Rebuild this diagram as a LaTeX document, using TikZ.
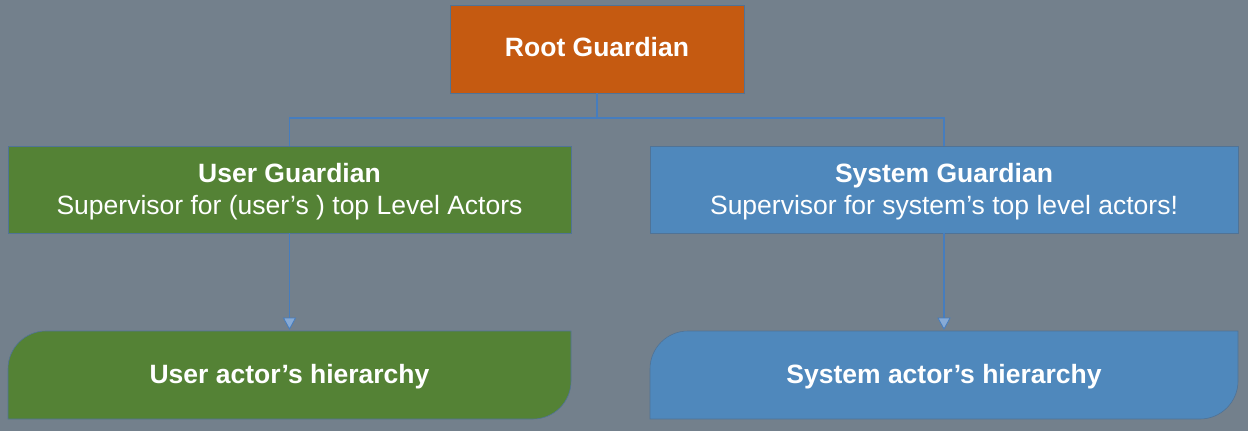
\documentclass[tikz,border=0pt]{standalone}
\usepackage{fontspec}
\setmainfont{Liberation Sans}
\definecolor{bgc}{RGB}{115,128,140}
\definecolor{orng}{RGB}{197,90,17}
\definecolor{grn}{RGB}{84,130,53}
\definecolor{blu}{RGB}{79,136,188}
\definecolor{lnc}{RGB}{70,125,190}
\definecolor{edg}{RGB}{80,115,150}
\pgfdeclarelayer{bg}
\pgfsetlayers{bg,main}
\begin{document}
\begin{tikzpicture}[x=1pt,y=-1pt,
  box/.style={draw=edg,line width=0.6pt,minimum height=87pt,inner sep=0pt},
  txt/.style={inner sep=0pt,text=white,align=center,font=\fontsize{26.5}{32.5}\selectfont},
  conn/.style={draw=lnc,line width=1.2pt},
  tip/.style={fill=lnc!65!white,draw=lnc,line width=0.8pt,line join=miter}]
\begin{pgfonlayer}{bg}
\fill[bgc] (0,0) rectangle (1248,431);
\end{pgfonlayer}
\useasboundingbox (0,0) rectangle (1248,431);
\node[box,fill=orng,minimum width=294pt,minimum height=88pt] (root) at (597,49) {};
\node[txt,font=\fontsize{26.5}{32.5}\selectfont\bfseries] (roott) at (597,47.5) {Root Guardian};
\node[box,fill=grn,minimum width=563pt] (ug) at (289.5,189.5) {};
\node[txt] (ugt) at (289.5,191.5) {\textbf{User Guardian}\\Supervisor for (user’s ) top Level Actors};
\node[box,fill=blu,minimum width=588pt] (sg) at (944,189.5) {};
\node[txt] (sgt) at (944,191.5) {\textbf{System Guardian}\\Supervisor for system’s top level actors!};
\coordinate (lnw) at (8,331); \coordinate (lse) at (571,419);
\coordinate (rnw) at (650,331); \coordinate (rse) at (1238,419);
\node[txt,font=\fontsize{26.5}{32.5}\selectfont\bfseries] (uh) at (289.5,377) {User actor’s hierarchy};
\node[txt,font=\fontsize{26.5}{32.5}\selectfont\bfseries] (sh) at (944,377) {System actor’s hierarchy};
\begin{pgfonlayer}{bg}
\foreach \nw/\se/\c in {lnw/lse/grn,rnw/rse/blu}{
  \path[fill=\c,draw=edg,line width=0.6pt]
    (\nw |- \se) -- ([yshift=-38pt]\nw) arc[start angle=180,end angle=90,radius=38pt]
    -- (\se |- \nw) -- ([yshift=38pt]\se) arc[start angle=0,end angle=-90,radius=38pt] -- cycle;
}
\end{pgfonlayer}
\coordinate (mid) at (597,118);
\coordinate (ua) at ([yshift=2pt]ug.south |- lnw);
\coordinate (sa) at ([yshift=2pt]sg.south |- rnw);
\draw[conn] (root.south) -- (mid);
\draw[conn] (ug.north) |- (mid) -| (sg.north);
\draw[conn] (ug.south) -- ([yshift=10pt]ua);
\draw[conn] (sg.south) -- ([yshift=10pt]sa);
\draw[tip] (ua) -- ++(-6,-11) -- ++(12,0) -- cycle;
\draw[tip] (sa) -- ++(-6,-11) -- ++(12,0) -- cycle;
\end{tikzpicture}
\end{document}
